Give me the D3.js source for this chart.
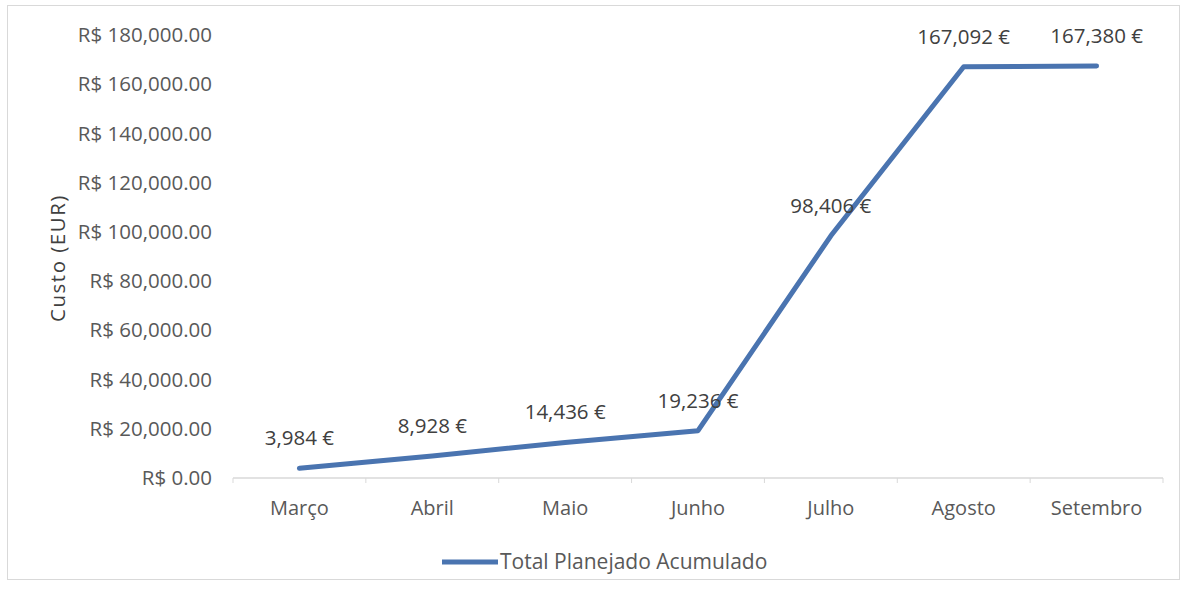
<!DOCTYPE html>
<html><head><meta charset="utf-8">
<script src="https://cdn.jsdelivr.net/npm/d3@7"></script>
<style>
html,body{margin:0;padding:0;background:#fff;}
text{font-family:"Open Sans",Lato,sans-serif;}
</style></head>
<body>
<svg id="c" width="1187" height="593"></svg>
<script>
const categories = ["Março","Abril","Maio","Junho","Julho","Agosto","Setembro"];
const values = [3984, 8928, 14436, 19236, 98406, 167092, 167380];
const valueLabels = ["3,984 €","8,928 €","14,436 €","19,236 €","98,406 €","167,092 €","167,380 €"];
const yTicks = [0,20000,40000,60000,80000,100000,120000,140000,160000,180000];
const seriesName = "Total Planejado Acumulado";
const yTitle = "Custo (EUR)";

const svg = d3.select("#c");
const blue = "#4a74b0", txt = "#595959";

svg.append("rect").attr("x",7.5).attr("y",5.5).attr("width",1172).attr("height",574)
  .attr("fill","#fff").attr("stroke","#d9d9d9").attr("stroke-width",1);

const x = d3.scaleBand().domain(categories).range([233,1163]);
const y = d3.scaleLinear().domain([0,180000]).range([478,35]);

// y labels
const fmt = d3.format(",.2f");
const ya = svg.append("g").attr("transform","translate(212,0)")
  .call(d3.axisLeft(y).tickValues(yTicks).tickSize(0).tickPadding(0).tickFormat(d=>"R$ "+fmt(d)));
ya.select(".domain").remove();
ya.selectAll("text").attr("fill",txt).style("font-size","20.5px").style("font-family","'Open Sans',Lato,sans-serif");

// x axis
const xa = svg.append("g").attr("transform","translate(0,478)");
xa.append("line").attr("x1",233).attr("x2",1163).attr("stroke","#d9d9d9").attr("stroke-width",1.5);
const bounds = categories.map(c=>x(c)).concat([x(categories[categories.length-1])+x.bandwidth()]);
xa.selectAll("line.tk").data(bounds).join("line").attr("class","tk")
  .attr("x1",d=>d).attr("x2",d=>d).attr("y1",0).attr("y2",5).attr("stroke","#d9d9d9").attr("stroke-width",1);
xa.selectAll("text.cat").data(categories).join("text").attr("class","cat")
  .attr("x",d=>x(d)+x.bandwidth()/2).attr("y",37).attr("text-anchor","middle")
  .attr("fill",txt).style("font-size","20px").text(d=>d);

// y title
svg.append("text").attr("transform","translate(65,258) rotate(-90)").attr("text-anchor","middle")
  .attr("fill","#404040").style("font-size","20.5px").style("letter-spacing","1.5px").text(yTitle);

// line
const pts = categories.map((c,i)=>[x(c)+x.bandwidth()/2, y(values[i])]);
svg.append("path").datum(pts).attr("d",d3.line()).attr("fill","none")
  .attr("stroke",blue).attr("stroke-width",5).attr("stroke-linejoin","round").attr("stroke-linecap","round");

// data labels
svg.selectAll("text.dl").data(pts).join("text").attr("class","dl")
  .attr("x",d=>d[0]).attr("y",(d)=>d[1]-23).attr("text-anchor","middle")
  .attr("fill","#404040").style("font-size","20.5px").text((d,i)=>valueLabels[i]);

// legend
svg.append("line").attr("x1",442).attr("x2",498).attr("y1",562).attr("y2",562)
  .attr("stroke",blue).attr("stroke-width",5);
svg.append("text").attr("x",500).attr("y",569).attr("fill",txt).style("font-size","21px").text(seriesName);
</script>
</body></html>
